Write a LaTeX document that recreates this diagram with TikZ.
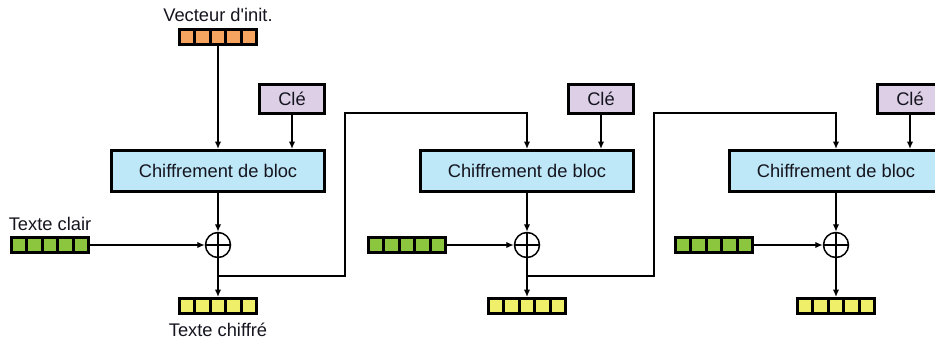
\documentclass[tikz,border=0pt]{standalone}
\usepackage{fontspec}
\setmainfont{Liberation Sans}
\usetikzlibrary{arrows.meta,calc}
\definecolor{ivorange}{HTML}{F5A560}
\definecolor{keypurple}{HTML}{DCCFE6}
\definecolor{blockblue}{HTML}{BEE7F7}
\definecolor{plaingreen}{HTML}{8CC63F}
\definecolor{cipheryellow}{HTML}{EFEF6A}
\definecolor{inkdark}{HTML}{15151F}
\begin{document}
\begin{tikzpicture}[x=1pt,y=-1pt,
  txt/.style={font=\fontsize{18.3}{21}\selectfont,text=inkdark},
  conn/.style={line width=1.4pt,-{Latex[length=7.5pt,width=6.5pt]}},
  blockbox/.style={draw,line width=3pt,fill=blockblue,minimum width=213pt,
    minimum height=41pt,inner sep=0pt,txt},
  keybox/.style={draw,line width=3pt,fill=keypurple,minimum width=65pt,
    minimum height=29pt,inner sep=0pt,txt},
  reg/.style={draw,line width=3pt,minimum width=77pt,minimum height=15pt,
    inner sep=0pt,
    path picture={\foreach \k in {1,2,3,4}{
      \draw[line width=3pt]
        ($(path picture bounding box.south west)!\k/5!(path picture bounding box.south east)$)
        -- ($(path picture bounding box.north west)!\k/5!(path picture bounding box.north east)$);}}},
  xorop/.style={circle,draw,line width=1.5pt,minimum size=25pt,inner sep=0pt,
    path picture={\draw[line width=1.4pt]
      (path picture bounding box.north) -- (path picture bounding box.south)
      (path picture bounding box.west) -- (path picture bounding box.east);}}
]
\useasboundingbox (0,0) rectangle (935,345);
\clip (0,0) rectangle (935,345);

% initialisation vector
\node[txt] (ivlbl) at (218,15) {Vecteur d\textquotesingle init.};
\node[reg,fill=ivorange] (iv) at (218,37) {};

% stage 1
\node[blockbox] (blk0) at (218,171) {Chiffrement de bloc};
\node[keybox] (key0) at (292,99) {Clé};
\node[xorop] (xr0) at (218,245) {};
\node[reg,fill=plaingreen] (pt0) at (50,245) {};
\node[txt] (ptlbl) at (50,224) {Texte clair};
\node[reg,fill=cipheryellow] (ct0) at (218,306) {};
\node[txt] (ctlbl) at (218,330) {Texte chiffré};

% stage 2
\node[blockbox] (blk1) at (527,171) {Chiffrement de bloc};
\node[keybox] (key1) at (601,99) {Clé};
\node[xorop] (xr1) at (527,245) {};
\node[reg,fill=plaingreen] (pt1) at (407,245) {};
\node[reg,fill=cipheryellow] (ct1) at (527,306) {};

% stage 3
\node[blockbox] (blk2) at (836,171) {Chiffrement de bloc};
\node[keybox] (key2) at (910,99) {Clé};
\node[xorop] (xr2) at (836,245) {};
\node[reg,fill=plaingreen] (pt2) at (714,245) {};
\node[reg,fill=cipheryellow] (ct2) at (836,306) {};

% feedback corners
\coordinate (br0) at (218,276);
\coordinate (up0) at (345,113);
\coordinate (br1) at (527,276);
\coordinate (up1) at (654,113);

% connectors
\draw[conn] (iv.south) -- (blk0.north);
\foreach \s in {0,1,2}{
  \draw[conn] (key\s.south) -- (key\s.south |- blk\s.north);
  \draw[conn] (blk\s.south) -- (xr\s.north);
  \draw[conn] (pt\s.east) -- (xr\s.west);
  \draw[conn] (xr\s.south) -- (ct\s.north);
}
\draw[conn] (br0) -| (up0) -| (blk1.north);
\draw[conn] (br1) -| (up1) -| (blk2.north);
\end{tikzpicture}
\end{document}
